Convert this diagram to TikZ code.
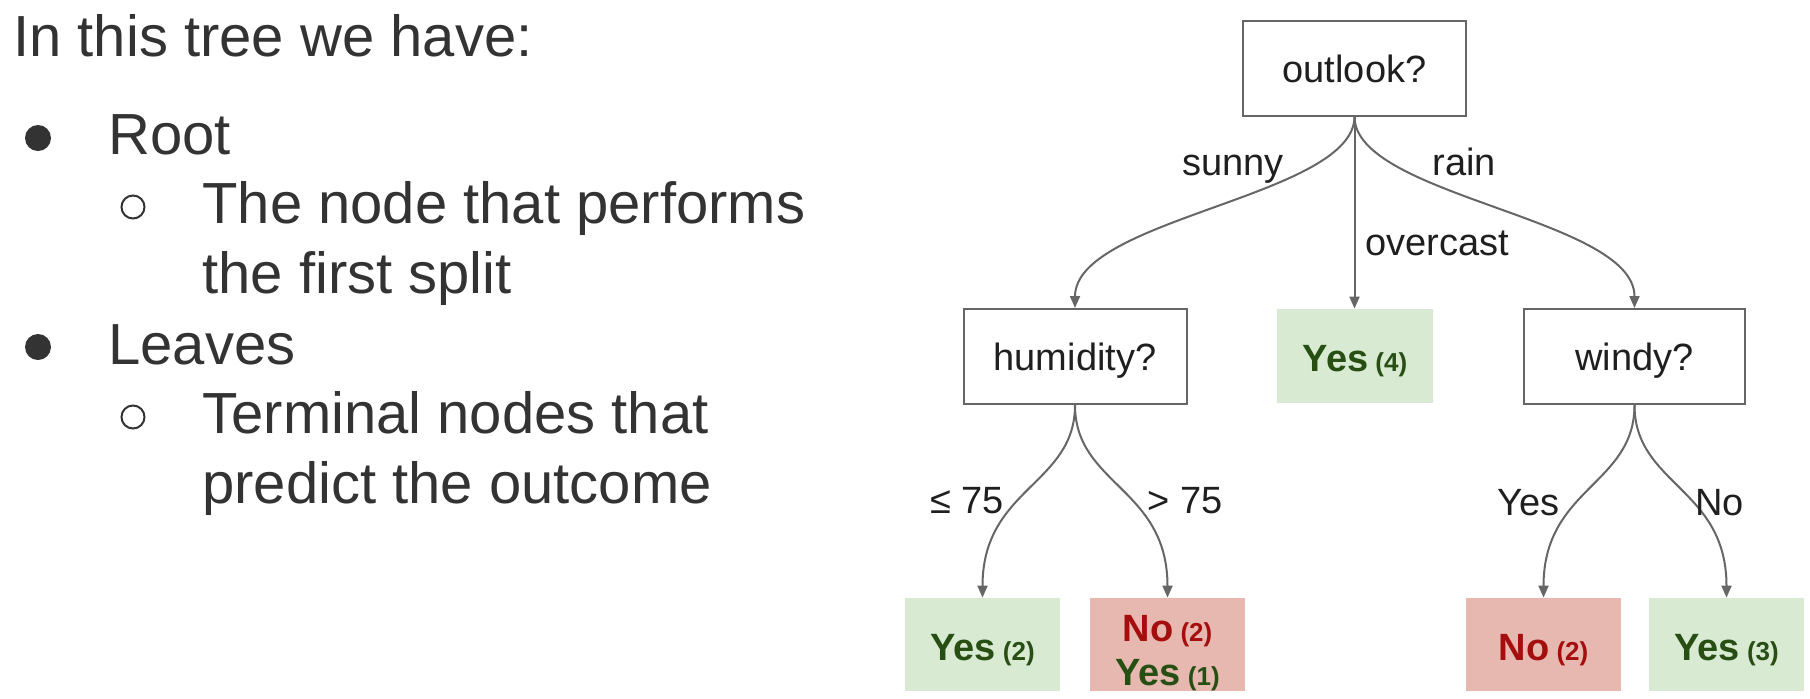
\documentclass[tikz,border=0pt]{standalone}
\usepackage{fontspec}
\setmainfont{Liberation Sans}
\usetikzlibrary{arrows.meta}

\definecolor{bodytext}{HTML}{333333}
\definecolor{treetext}{HTML}{1F1F1F}
\definecolor{linegray}{HTML}{666666}
\definecolor{yesfill}{HTML}{D9EAD3}
\definecolor{nofill}{HTML}{E6B8AF}
\definecolor{yesink}{HTML}{274E13}
\definecolor{noink}{HTML}{A50E0E}

% sample count printed after a class label
\newcommand\samplecount[1]{{\fontsize{13}{15}\selectfont\ #1}}

\begin{document}
\begin{tikzpicture}[x=0.5pt,y=-0.5pt,
  bodyline/.style={anchor=base west, inner sep=0pt, text=bodytext,
    font=\fontsize{29}{34}\selectfont},
  bigdot/.style={circle, fill=bodytext, inner sep=0pt, minimum size=13pt},
  ringdot/.style={circle, draw=bodytext, line width=1pt, inner sep=0pt, minimum size=11.5pt},
  question/.style={draw=linegray, line width=1pt, fill=white, inner sep=0pt,
    minimum width=111.5pt, minimum height=47.5pt, text=treetext,
    font=\fontsize{19}{22}\selectfont, text height=14.4pt, text depth=0pt},
  leaf/.style={inner sep=0pt, minimum width=77.5pt, minimum height=46.5pt,
    font=\bfseries\fontsize{19}{22}\selectfont},
  yesleaf/.style={leaf, fill=yesfill, text=yesink, text height=15.5pt, text depth=0pt},
  noleaf/.style={leaf, fill=nofill, text=noink, text height=15.5pt, text depth=0pt},
  branch/.style={draw=linegray, line width=1pt, -{Triangle[length=6pt,width=5pt]}},
  cond/.style={anchor=base west, inner sep=0pt, text=treetext,
    font=\fontsize{19}{22}\selectfont}
]
\useasboundingbox (0,0) rectangle (1810,698);

% ---- bullet list ----
\node[bodyline] (head) at (13,56) {In this tree we have:};
\node[bigdot] (b1) at (38,138) {};
\node[bodyline] (root) at (108,154) {Root};
\node[ringdot] (s1) at (133,207) {};
\node[bodyline] (s1a) at (202,223) {The node that performs};
\node[bodyline] (s1b) at (202,293) {the first split};
\node[bigdot] (b2) at (38,347) {};
\node[bodyline] (leaves) at (108,364) {Leaves};
\node[ringdot] (s2) at (133,417) {};
\node[bodyline] (s2a) at (202,433) {Terminal nodes that};
\node[bodyline] (s2b) at (202,503) {predict the outcome};

% ---- decision tree ----
\node[question] (outlook) at (1354.5,68) {outlook?};
\node[question] (hum) at (1075,356.5) {humidity?};
\node[question, minimum width=110.5pt] (windy) at (1634.5,356.5) {windy?};
\node[yesleaf, minimum width=78pt, minimum height=47pt] (yes4) at (1355,356) {Yes\samplecount{(4)}};

\node[yesleaf] (yes2) at (982.5,644.5) {Yes\samplecount{(2)}};
\node[leaf, fill=nofill, align=center] (mixed) at (1167.5,644.5)
  {\rule{0pt}{21.5pt}\textcolor{noink}{No\samplecount{(2)}}\\\textcolor{yesink}{Yes\samplecount{(1)}}};
\node[noleaf] (no2) at (1543.5,644.5) {No\samplecount{(2)}};
\node[yesleaf] (yes3) at (1726.5,644.5) {Yes\samplecount{(3)}};

% branches
\draw[branch] (outlook.south) .. controls +(0,80) and +(0,-90) .. (hum.north);
\draw[branch] (outlook.south) -- (outlook.south |- yes4.north);
\draw[branch] (outlook.south) .. controls +(0,80) and +(0,-90) .. (windy.north);
\draw[branch] (hum.south) .. controls +(0,80) and +(0,-110) .. (yes2.north);
\draw[branch] (hum.south) .. controls +(0,80) and +(0,-110) .. (mixed.north);
\draw[branch] (windy.south) .. controls +(0,80) and +(0,-110) .. (no2.north);
\draw[branch] (windy.south) .. controls +(0,80) and +(0,-110) .. (yes3.north);

% branch conditions
\node[cond] (csunny) at (1182,175) {sunny};
\node[cond] (crain) at (1432,175) {rain};
\node[cond] (cover) at (1365,255) {overcast};
\node[cond] (cle) at (930,513) {≤ 75};
\node[cond] (cgt) at (1147,513) {> 75};
\node[cond] (cyes) at (1497,515) {Yes};
\node[cond] (cno) at (1695,515) {No};
\end{tikzpicture}
\end{document}
